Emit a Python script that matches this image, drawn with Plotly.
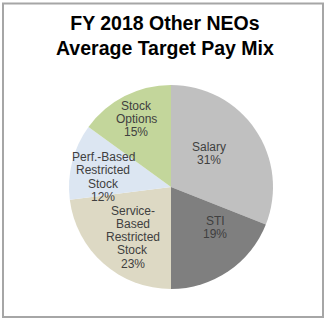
import math
import plotly.graph_objects as go

labels = ["Salary", "STI", "Service-Based Restricted Stock", "Perf.-Based Restricted Stock", "Stock Options"]
label_lines = [["Salary"], ["STI"], ["Service-", "Based", "Restricted", "Stock"], ["Perf.-Based", "Restricted", "Stock"], ["Stock", "Options"]]
values = [31, 19, 23, 12, 15]
colors = ["#C0C0C0", "#7F7F7F", "#DDD9C4", "#DCE6F2", "#C3D69B"]
title_lines = ["FY 2018 Other NEOs", "Average Target Pay Mix"]

# label placement (layout only): radial fraction and angular nudge (deg)
label_rf = [0.50, 0.59, 0.62, 0.67, 0.75]
label_dtheta = [-7, -13, -4, -6, 0]

W, H = 330, 322
cx, cy, r = 171, 187, 102
line_gap = 13.2
font = "Arial, Liberation Sans"

fig = go.Figure(go.Pie(
    labels=labels,
    values=values,
    textinfo="none",
    sort=False,
    direction="clockwise",
    rotation=0,
    marker=dict(colors=colors, line=dict(width=0)),
    hoverinfo="label+percent",
    showlegend=False,
    domain=dict(x=[(cx - r) / W, (cx + r) / W], y=[(H - cy - r) / H, (H - cy + r) / H]),
))

annotations = [dict(
    text="<b>" + "<br>".join(title_lines) + "</b>",
    xref="paper", yref="paper", x=0.5, xanchor="center",
    y=1 - 10 / H, yanchor="top", showarrow=False,
    font=dict(family=font, size=19.5, color="#000000"),
)]

total = sum(values)
cum = 0
for lines, v, rf, dth in zip(label_lines, values, label_rf, label_dtheta):
    mid = (cum + v / 2) / total * 360 + dth
    cum += v
    px = cx + rf * r * math.sin(math.radians(mid))
    py = cy - rf * r * math.cos(math.radians(mid))
    all_lines = lines + [f"{round(v / total * 100)}%"]
    n = len(all_lines)
    for i, t in enumerate(all_lines):
        ly = py + (i - (n - 1) / 2) * line_gap
        annotations.append(dict(
            text=t, xref="paper", yref="paper",
            x=px / W, y=1 - ly / H, xanchor="center", yanchor="middle",
            showarrow=False,
            font=dict(family=font, size=12, color="#404040"),
        ))

fig.update_layout(
    width=W, height=H,
    margin=dict(l=0, r=0, t=0, b=0),
    paper_bgcolor="white",
    plot_bgcolor="white",
    annotations=annotations,
    shapes=[dict(
        type="rect", xref="paper", yref="paper",
        x0=3 / W, x1=323 / W, y0=(H - 317) / H, y1=(H - 3.5) / H,
        line=dict(color="#A6A6A6", width=2),
    )],
)

fig.write_html("out.html")
